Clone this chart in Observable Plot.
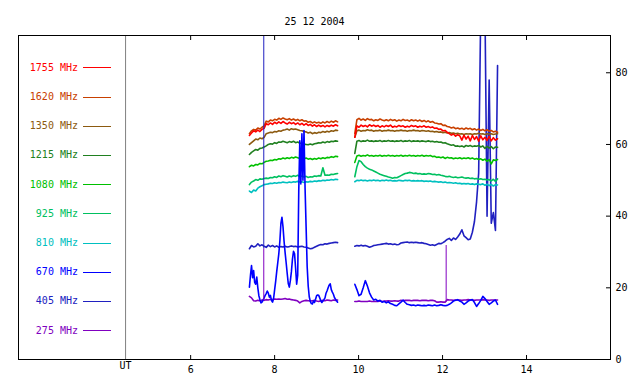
<!DOCTYPE html>
<html><head><meta charset="utf-8">
<script src="https://cdn.jsdelivr.net/npm/d3@7"></script>
<script src="https://cdn.jsdelivr.net/npm/@observablehq/plot@0.6"></script>
<style>
body{margin:0;background:#fff;}
#chart{width:640px;height:384px;}
</style></head><body><div id="chart"></div>
<script>
const title = "25 12 2004";
const freqs = ["1755","1620","1350","1215","1080","925","810","670","405","275"];
const colors = ["#ff0000","#c84000","#8c5a10","#208020","#00c000","#00c060","#00c0c0","#0000ff","#2020c0","#8000c0"];
const drawOrder = ["275","405","810","925","1080","1215","1350","1620","1755","670"];
const xTicks = [6,8,10,12,14];
const yTicks = [0,20,40,60,80];
const utTime = 4.45;
const seg1Start = 7.40, seg1Step = 0.05, seg1FineStep = 0.025;
const seg2Start = 9.91, seg2Step = 0.05;

// segment 1 (07:24 - 09:30 UT)
const s1_1755 = [62.5,63.2,63.8,63.5,64.0,63.6,64.2,64.5,65.8,65.5,66.0,65.6,66.2,65.8,66.3,65.9,66.4,66.0,65.7,66.2,65.8,66.1,65.6,66.0,65.5,65.9,65.4,65.8,65.3,65.6,65.1,65.5,65.0,65.4,65.0,65.3,64.9,65.3,65.0,65.4,65.1,65.5,65.2];
const s1_1620 = [63.0,63.8,64.2,64.0,64.6,64.3,64.8,65.2,66.5,66.3,66.8,66.6,67.0,66.8,67.3,67.0,67.4,67.1,66.9,67.2,66.8,67.1,66.7,67.0,66.6,66.9,66.5,66.6,66.2,66.4,66.0,66.3,66.0,66.2,65.9,66.3,66.0,66.4,66.1,66.5,66.2,66.6,66.3];
const s1_1350 = [60.0,60.5,61.0,61.5,61.3,61.8,61.6,62.0,63.0,63.2,63.4,63.3,63.6,63.5,63.8,63.7,64.0,64.1,64.3,64.0,64.4,64.2,64.3,64.1,63.9,63.8,63.6,63.5,63.2,63.4,63.0,63.3,63.1,63.4,63.3,63.6,63.4,63.7,63.5,63.8,63.7,64.0,63.9];
const s1_1215 = [57.2,57.8,58.2,58.6,58.4,58.9,59.0,59.3,59.6,60.0,60.2,60.1,60.5,60.3,60.7,60.6,60.9,60.7,60.5,60.8,60.6,60.9,60.5,60.7,60.3,60.4,60.1,60.0,59.9,60.1,59.9,60.2,60.3,60.5,60.4,60.7,60.5,60.8,60.6,60.9,60.8,61.0,60.9];
const s1_1080 = [53.8,54.2,54.0,54.4,54.3,54.7,54.6,55.0,55.3,55.4,55.6,55.5,55.8,55.7,56.0,55.9,56.2,56.0,56.3,56.1,56.4,56.2,56.5,56.3,56.1,56.4,56.0,56.2,55.9,56.1,55.8,56.1,55.9,56.2,56.0,56.3,56.1,56.4,56.3,56.6,56.4,56.7,56.6];
const s1_925 = [48.8,49.5,49.8,50.2,50.0,50.4,50.3,50.5,50.6,50.5,50.8,50.7,51.0,50.8,51.2,51.0,51.3,51.1,50.9,51.2,51.0,51.3,51.1,51.4,51.0,51.2,50.9,51.1,50.8,51.0,50.9,51.2,51.1,51.3,51.2,53.5,51.4,51.5,51.4,51.7,51.6,51.8,51.9];
const s1_810 = [47.0,46.6,47.3,47.0,47.8,48.2,48.5,48.8,48.9,49.0,49.2,49.1,49.3,49.2,49.4,49.3,49.5,49.4,49.3,49.5,49.4,49.6,49.5,49.7,49.5,49.6,49.4,49.6,49.5,49.7,49.6,49.8,49.7,49.9,49.8,50.0,49.9,50.1,50.0,50.2,50.1,50.3,50.2];
const s1_670 = [20.2,23.5,26.2,22.8,24.8,21.5,21.0,23.0,20.0,17.8,16.7,15.8,16.0,16.6,17.2,17.9,18.4,19.1,18.5,17.4,17.9,16.5,16.0,17.0,19.4,21.8,24.5,27.0,29.5,33.0,38.0,39.7,37.0,33.0,29.8,27.0,24.0,21.2,20.2,22.0,24.5,28.0,30.2,29.5,25.5,21.0,23.5,47.0,61.0,49.0,63.0,50.0,63.9,48.0,37.0,26.0,20.5,17.5,16.2,15.6,15.5,16.3,15.9,16.8,17.8,18.0,17.9,17.2,16.4,15.9,16.3,16.7,17.2,18.5,19.2,20.0,20.8,21.1,19.5,18.8,18.2,17.3,16.8,16.4,16.0];
const s1_405 = [30.9,31.8,31.4,31.6,32.3,31.7,32.0,31.6,31.3,31.9,31.5,31.8,31.4,31.7,31.3,31.5,31.4,31.6,31.4,31.5,31.7,31.5,31.6,31.4,31.5,31.6,31.4,31.3,31.1,30.9,31.0,31.3,31.6,31.9,32.1,32.0,32.3,32.2,32.4,32.5,32.6,32.7,32.6];
const s1_275 = [17.6,17.2,16.4,16.3,16.5,16.4,16.6,16.5,16.7,16.6,16.8,16.7,16.9,16.8,16.9,16.8,16.9,17.0,16.8,16.9,16.7,16.6,16.5,16.3,15.8,16.2,16.4,16.5,16.4,16.3,16.4,16.5,16.3,16.2,16.4,16.5,16.4,16.6,16.5,16.4,16.6,16.5,16.6];

// segment 2 (09:55 - 13:19 UT)
const s2_1755 = [62.0,65.2,64.8,65.4,65.0,65.3,64.9,65.5,65.1,65.4,65.0,65.3,64.8,65.2,64.9,65.3,65.0,65.4,64.8,65.1,64.9,65.3,65.0,65.2,64.8,65.1,64.9,65.3,65.0,65.2,64.8,65.1,64.9,65.2,64.8,65.0,64.7,64.9,64.5,64.6,64.2,64.3,63.8,63.9,63.4,63.0,62.6,62.9,62.3,62.7,62.4,61.2,62.6,61.5,62.3,61.0,62.5,61.4,62.2,60.9,62.4,61.3,62.0,61.1,62.3,61.0,61.9,61.2,61.6];
const s2_1620 = [63.0,66.9,67.3,66.8,67.1,66.7,67.2,66.9,67.0,66.6,66.9,66.7,67.1,66.8,66.6,66.9,66.6,67.0,66.7,66.9,66.5,66.8,66.6,67.0,66.7,66.8,66.5,66.9,66.6,66.8,66.5,66.8,66.4,66.7,66.3,66.6,66.2,66.4,66.0,65.9,65.7,65.8,65.3,65.4,65.0,64.9,64.6,64.8,64.4,64.6,64.3,64.5,64.2,64.6,64.3,64.5,64.1,64.4,64.0,64.3,63.9,64.2,63.8,64.1,63.7,63.9,63.5,63.7,63.4];
const s2_1350 = [62.0,63.8,64.0,63.7,63.9,63.8,64.1,63.9,64.0,63.7,63.9,63.8,64.0,63.7,63.9,63.8,64.0,63.8,63.9,63.7,63.9,63.8,64.0,63.8,63.9,63.7,63.9,63.8,64.0,63.8,63.9,63.7,63.9,63.8,63.7,63.8,63.6,63.7,63.5,63.6,63.4,63.5,63.3,63.4,63.2,63.3,63.1,63.2,63.0,63.1,62.9,63.0,62.8,63.0,62.9,63.0,62.8,63.0,62.9,63.1,62.9,63.0,62.8,63.0,62.9,63.0,62.8,62.9,63.0];
const s2_1215 = [57.5,60.9,61.1,60.8,61.0,60.9,61.2,60.9,61.0,60.8,61.0,60.9,61.1,60.8,61.0,60.9,61.1,60.9,61.0,60.8,61.0,60.9,61.1,60.8,61.0,60.9,61.1,60.8,61.0,60.9,61.0,60.8,61.0,60.9,60.8,61.0,60.8,60.9,60.7,60.8,60.6,60.7,60.4,60.5,60.2,60.0,59.8,59.9,59.5,59.6,59.4,59.6,59.3,59.7,59.5,59.7,59.4,59.6,59.5,59.7,59.3,59.6,58.9,59.5,59.0,59.4,58.8,59.3,59.2];
const s2_1080 = [55.0,56.8,57.0,56.7,56.9,56.8,57.1,56.8,56.9,56.7,56.9,56.8,57.0,56.7,56.9,56.8,57.0,56.8,56.9,56.7,56.9,56.8,57.0,56.7,56.9,56.8,57.0,56.8,56.9,56.7,56.9,56.8,57.0,56.7,56.9,56.8,56.9,56.6,56.7,56.4,56.5,56.3,56.5,56.1,56.4,56.2,56.3,56.0,56.2,56.1,56.3,56.0,56.2,56.1,56.3,56.0,56.2,55.9,56.1,55.8,56.0,55.6,55.9,55.3,55.8,54.6,55.7,55.5,55.8];
const s2_925 = [51.0,53.8,55.5,55.2,54.4,53.8,53.4,53.1,52.9,52.6,52.3,52.0,51.7,51.5,51.3,51.1,50.9,50.8,50.6,50.8,50.7,51.0,51.3,51.6,51.9,52.0,52.2,52.1,51.9,52.0,51.8,51.9,51.7,51.8,51.7,51.9,51.8,51.6,51.7,51.5,51.6,51.4,51.3,51.1,51.0,51.1,50.9,50.8,50.9,50.7,50.8,50.9,50.7,50.6,50.7,50.5,50.6,50.4,50.5,50.3,50.4,50.2,50.3,50.1,50.2,49.8,50.3,49.7,50.4];
const s2_810 = [49.6,50.0,49.9,50.1,49.9,50.0,49.8,50.0,49.9,50.1,49.9,50.0,49.8,50.0,49.9,50.1,49.9,50.0,49.8,49.9,49.8,50.0,49.9,49.8,50.0,49.9,50.0,49.8,49.9,49.8,49.9,49.8,49.9,49.7,49.8,49.7,49.8,49.6,49.7,49.6,49.5,49.6,49.4,49.5,49.3,49.4,49.3,49.2,49.3,49.1,49.2,49.0,49.1,49.0,49.1,48.9,49.0,48.8,49.0,48.9,48.8,49.0,48.6,48.9,48.5,48.9,48.4,48.8,48.7];
const s2_670 = [21.0,19.5,17.8,18.2,20.0,22.0,20.5,18.6,17.4,16.6,16.8,16.3,16.5,16.0,16.2,15.8,16.1,15.6,15.4,15.1,15.0,15.5,16.0,16.6,15.9,15.4,15.3,15.1,15.2,15.0,15.2,15.1,15.0,15.1,15.0,15.2,15.1,15.0,15.2,15.0,15.1,15.3,15.1,15.0,15.1,15.4,15.8,16.3,16.5,16.7,16.3,16.0,15.4,15.8,16.3,16.6,16.7,15.9,14.8,15.6,16.5,17.6,17.0,16.2,15.4,15.8,16.3,16.6,15.4];
const s2_405 = [31.6,31.8,31.7,31.9,31.7,31.8,31.6,31.3,31.5,31.8,31.9,32.0,32.1,32.2,32.3,32.4,32.2,32.3,32.1,32.2,32.0,32.1,32.5,32.6,32.7,32.8,32.6,32.7,32.6,32.7,32.6,32.5,32.6,32.4,32.3,32.1,31.9,32.0,31.8,32.1,32.4,32.3,32.6,33.0,33.5,33.8,33.2,33.9,33.5,34.2,35.0,36.2,34.5,34.0,33.4,33.6,35.5,38.5,44.0,52.0,98,98,98,40.0,78.0,38.0,41.0,36.0,82.0];
const s2_275 = [16.2,16.2,16.3,16.2,16.2,16.2,16.2,16.3,16.2,16.2,16.2,16.2,16.3,16.2,16.3,16.3,16.4,16.3,16.3,16.4,16.3,16.3,16.5,16.4,16.5,16.5,16.5,16.4,16.5,16.5,16.5,16.4,16.5,16.5,16.5,16.4,16.5,16.5,16.4,16.0,16.0,16.1,16.0,16.0,16.7,16.6,16.6,16.5,16.6,16.6,16.6,16.5,16.6,16.6,16.7,16.6,16.6,16.5,16.6,16.6,16.6,16.7,16.6,16.6,16.5,16.6,16.6,16.6,16.6];

// short interference spikes
const spikeTimes = [7.742, 7.742, 12.086];
const spikeLow = [16.5, 30.9, 16.0];
const spikeHigh = [30.9, 95, 31.8];
const spikeFreq = ["275", "405", "275"];

const seg1 = {"1755":s1_1755,"1620":s1_1620,"1350":s1_1350,"1215":s1_1215,"1080":s1_1080,"925":s1_925,"810":s1_810,"670":s1_670,"405":s1_405,"275":s1_275};
const seg2 = {"1755":s2_1755,"1620":s2_1620,"1350":s2_1350,"1215":s2_1215,"1080":s2_1080,"925":s2_925,"810":s2_810,"670":s2_670,"405":s2_405,"275":s2_275};

const rows = [];
for (const f of drawOrder) {
  const a = seg1[f];
  const st = f === "670" ? seg1FineStep : seg1Step;
  a.forEach((v, i) => rows.push({t: seg1Start + i * st, v, freq: f, key: f + "-1"}));
  seg2[f].forEach((v, i) => rows.push({t: seg2Start + i * seg2Step, v, freq: f, key: f + "-2"}));
}
const spikes = spikeTimes.map((t, i) => ({t, lo: spikeLow[i], hi: spikeHigh[i], freq: spikeFreq[i]}));

const font = "DejaVu Sans Mono";
const plot = Plot.plot({
  width: 640, height: 384,
  marginTop: 35, marginBottom: 25, marginLeft: 18, marginRight: 30,
  x: {domain: [1.9, 16], label: null},
  y: {domain: [0, 90.4], label: null},
  color: {domain: freqs, range: colors},
  style: {fontFamily: font, fontSize: "10px", background: "#fff", color: "#000"},
  marks: [
    Plot.ruleX([utTime], {stroke: "#808080"}),
    Plot.line(rows, {x: "t", y: "v", z: "key", stroke: "freq", strokeWidth: 1.6, clip: true}),
    Plot.ruleX(spikes, {x: "t", y1: "lo", y2: "hi", stroke: "freq", clip: true}),
    Plot.frame({stroke: "#000"}),
    Plot.axisX(xTicks, {anchor: "bottom", tickSize: -4, tickPadding: 10, label: null}),
    Plot.axisX(xTicks, {anchor: "top", tickSize: -4, tickFormat: () => "", label: null}),
    Plot.axisY(yTicks, {anchor: "right", tickSize: -5, tickPadding: 10, label: null}),
    Plot.text([title], {frameAnchor: "top", dy: -18}),
    Plot.text([{t: utTime, label: "UT"}], {x: "t", text: "label", frameAnchor: "bottom", dy: 9})
  ]
});
document.getElementById("chart").appendChild(plot);

// legend inside the frame, left of the UT line
const legendLabelX = 78, legendLineX1 = 83, legendLineX2 = 111, legendTop = 67.3, legendGap = 29.2;
const svg = d3.select(plot);
const lg = svg.append("g").attr("font-family", font).attr("font-size", 10);
freqs.forEach((f, i) => {
  const y = legendTop + i * legendGap;
  lg.append("text").attr("x", legendLabelX).attr("y", y).attr("dy", "0.35em")
    .attr("text-anchor", "end").attr("fill", colors[i]).text(f + " MHz");
  lg.append("line").attr("x1", legendLineX1).attr("x2", legendLineX2)
    .attr("y1", Math.round(y) + 0.5).attr("y2", Math.round(y) + 0.5).attr("stroke", colors[i]);
});
</script>
</body></html>
